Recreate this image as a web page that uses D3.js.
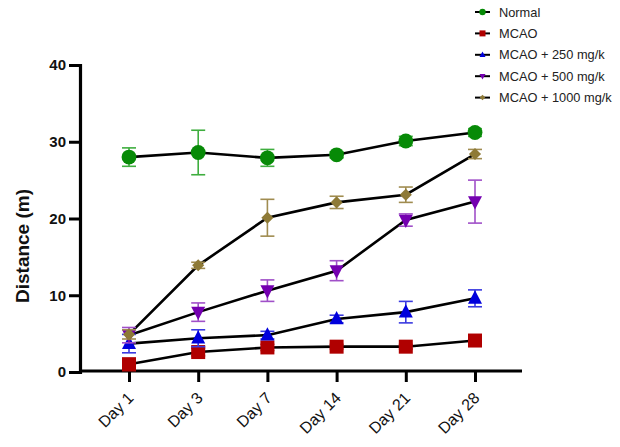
<!DOCTYPE html>
<html lang="en">
<head>
  <meta charset="UTF-8">
  <script src="https://d3js.org/d3.v7.min.js"></script>
  <title>Distance over days</title>
  <style>
    body { margin: 0; background: #fff; font-family: 'Liberation Sans', Arial, sans-serif; }
    svg { display: block; }
  </style>
</head>
<body>
  <svg width="620" height="447"></svg>

  <script>
    // data
    const days = ["Day 1", "Day 3", "Day 7", "Day 14", "Day 21", "Day 28"];
    const yTicks = [0, 10, 20, 30, 40];

    const normalMean = [28.0, 28.6, 27.9, 28.3, 30.1, 31.2];
    const normalErr  = [1.2, 2.9, 1.1, 0.4, 0.6, 0.5];
    const mcaoMean = [1.0, 2.6, 3.2, 3.3, 3.3, 4.1];
    const mcaoErr  = [0.8, 0.5, 0.4, 0.3, 0.3, 0.4];
    const d250Mean = [3.7, 4.4, 4.8, 6.9, 7.8, 9.6];
    const d250Err  = [1.2, 1.1, 0.5, 0.5, 1.4, 1.1];
    const d500Mean = [4.8, 7.8, 10.6, 13.2, 19.8, 22.2];
    const d500Err  = [1.0, 1.2, 1.4, 1.3, 0.8, 2.8];
    const d1000Mean = [4.9, 13.9, 20.1, 22.1, 23.1, 28.4];
    const d1000Err  = [0.6, 0.4, 2.4, 0.8, 1.0, 0.6];

    const series = [
      { name: "Normal", mean: normalMean, err: normalErr, color: "#078a07", errColor: "#3fae3f", shape: "circle" },
      { name: "MCAO", mean: mcaoMean, err: mcaoErr, color: "#b00000", errColor: "#c03030", shape: "square" },
      { name: "MCAO + 250 mg/k", mean: d250Mean, err: d250Err, color: "#0000dc", errColor: "#3a3ae0", shape: "triangle" },
      { name: "MCAO + 500 mg/k", mean: d500Mean, err: d500Err, color: "#7400b0", errColor: "#a050c8", shape: "triangleDown" },
      { name: "MCAO + 1000 mg/k", mean: d1000Mean, err: d1000Err, color: "#8e7a36", errColor: "#a08c50", shape: "diamond" }
    ];

    const svg = d3.select("svg");

    const x = d3.scalePoint().domain(days).range([129, 475]);
    const y = d3.scaleLinear().domain([0, 40]).range([372, 65]);

    function drawSymbol(g, shape, color, size) {
      if (shape === "circle") {
        g.append("circle").attr("r", size * 0.53).attr("fill", color);
      } else if (shape === "square") {
        g.append("rect").attr("x", -size / 2).attr("y", -size / 2)
          .attr("width", size).attr("height", size).attr("fill", color);
      } else if (shape === "triangle") {
        const h = size * 0.95;
        g.append("path").attr("d", `M0,${-h * 0.6}L${size / 2},${h * 0.4}L${-size / 2},${h * 0.4}Z`).attr("fill", color);
      } else if (shape === "triangleDown") {
        const h = size * 0.95;
        g.append("path").attr("d", `M0,${h * 0.6}L${size / 2},${-h * 0.4}L${-size / 2},${-h * 0.4}Z`).attr("fill", color);
      } else if (shape === "diamond") {
        const s = size * 0.55;
        g.append("path").attr("d", `M0,${-s}L${s},0L0,${s}L${-s},0Z`).attr("fill", color);
      }
    }

    // axes
    const yAxis = svg.append("g")
      .attr("transform", "translate(80,0)")
      .call(d3.axisLeft(y).tickValues(yTicks).tickSize(11).tickPadding(3));
    yAxis.select(".domain").attr("stroke", "#000").attr("stroke-width", 3.2);
    yAxis.selectAll(".tick line").attr("stroke", "#000").attr("stroke-width", 3);
    yAxis.selectAll(".tick text")
      .attr("font-family", "'Liberation Sans', Arial, sans-serif")
      .attr("font-size", 15).attr("font-weight", "bold").attr("fill", "#111");

    const xAxis = svg.append("g")
      .attr("transform", "translate(0,371)")
      .call(d3.axisBottom(x).tickSize(11).tickSizeOuter(0));
    xAxis.select(".domain").attr("d", "M80,0H522").attr("stroke", "#000").attr("stroke-width", 3.2);
    xAxis.selectAll(".tick line").attr("stroke", "#000").attr("stroke-width", 3);
    xAxis.selectAll(".tick text")
      .attr("font-family", "'Liberation Sans', Arial, sans-serif")
      .attr("font-size", 16).attr("fill", "#111")
      .attr("text-anchor", "end")
      .attr("dy", null).attr("y", null)
      .attr("transform", "translate(5,28) rotate(-45)");

    svg.append("text")
      .attr("transform", "translate(29,246) rotate(-90)")
      .attr("text-anchor", "middle")
      .attr("font-family", "'Liberation Sans', Arial, sans-serif")
      .attr("font-size", 19).attr("font-weight", "bold").attr("fill", "#111")
      .text("Distance (m)");

    const line = d3.line().x((d, i) => x(days[i])).y(d => y(d));

    // connecting lines
    series.forEach(s => {
      svg.append("path")
        .attr("d", line(s.mean))
        .attr("fill", "none").attr("stroke", "#000").attr("stroke-width", 2.6);
    });

    // error bars and markers
    series.forEach(s => {
      const g = svg.append("g");
      s.mean.forEach((m, i) => {
        const cx = x(days[i]);
        const eb = g.append("g").attr("stroke", s.errColor).attr("stroke-width", 1.6);
        eb.append("line").attr("x1", cx).attr("x2", cx).attr("y1", y(m + s.err[i])).attr("y2", y(m - s.err[i]));
        eb.append("line").attr("x1", cx - 7).attr("x2", cx + 7).attr("y1", y(m + s.err[i])).attr("y2", y(m + s.err[i]));
        eb.append("line").attr("x1", cx - 7).attr("x2", cx + 7).attr("y1", y(m - s.err[i])).attr("y2", y(m - s.err[i]));
      });
      s.mean.forEach((m, i) => {
        const mg = g.append("g").attr("transform", `translate(${x(days[i])},${y(m)})`);
        drawSymbol(mg, s.shape, s.color, s.shape === "diamond" ? 11 : 14);
      });
    });

    // legend
    const legend = svg.append("g");
    series.forEach((s, i) => {
      const ly = 12 + i * 21.4;
      const lg = legend.append("g").attr("transform", `translate(0,${ly})`);
      lg.append("line").attr("x1", 475).attr("x2", 490).attr("y1", 0).attr("y2", 0)
        .attr("stroke", "#000").attr("stroke-width", 2);
      const mg = lg.append("g").attr("transform", "translate(482.5,0)");
      drawSymbol(mg, s.shape, s.color, s.shape === "diamond" ? 5 : 6);
      lg.append("text").attr("x", 499).attr("y", 4.5)
        .attr("font-family", "'Liberation Sans', Arial, sans-serif")
        .attr("font-size", 12.8).attr("fill", "#222")
        .text(s.name);
    });
  </script>
</body>
</html>
